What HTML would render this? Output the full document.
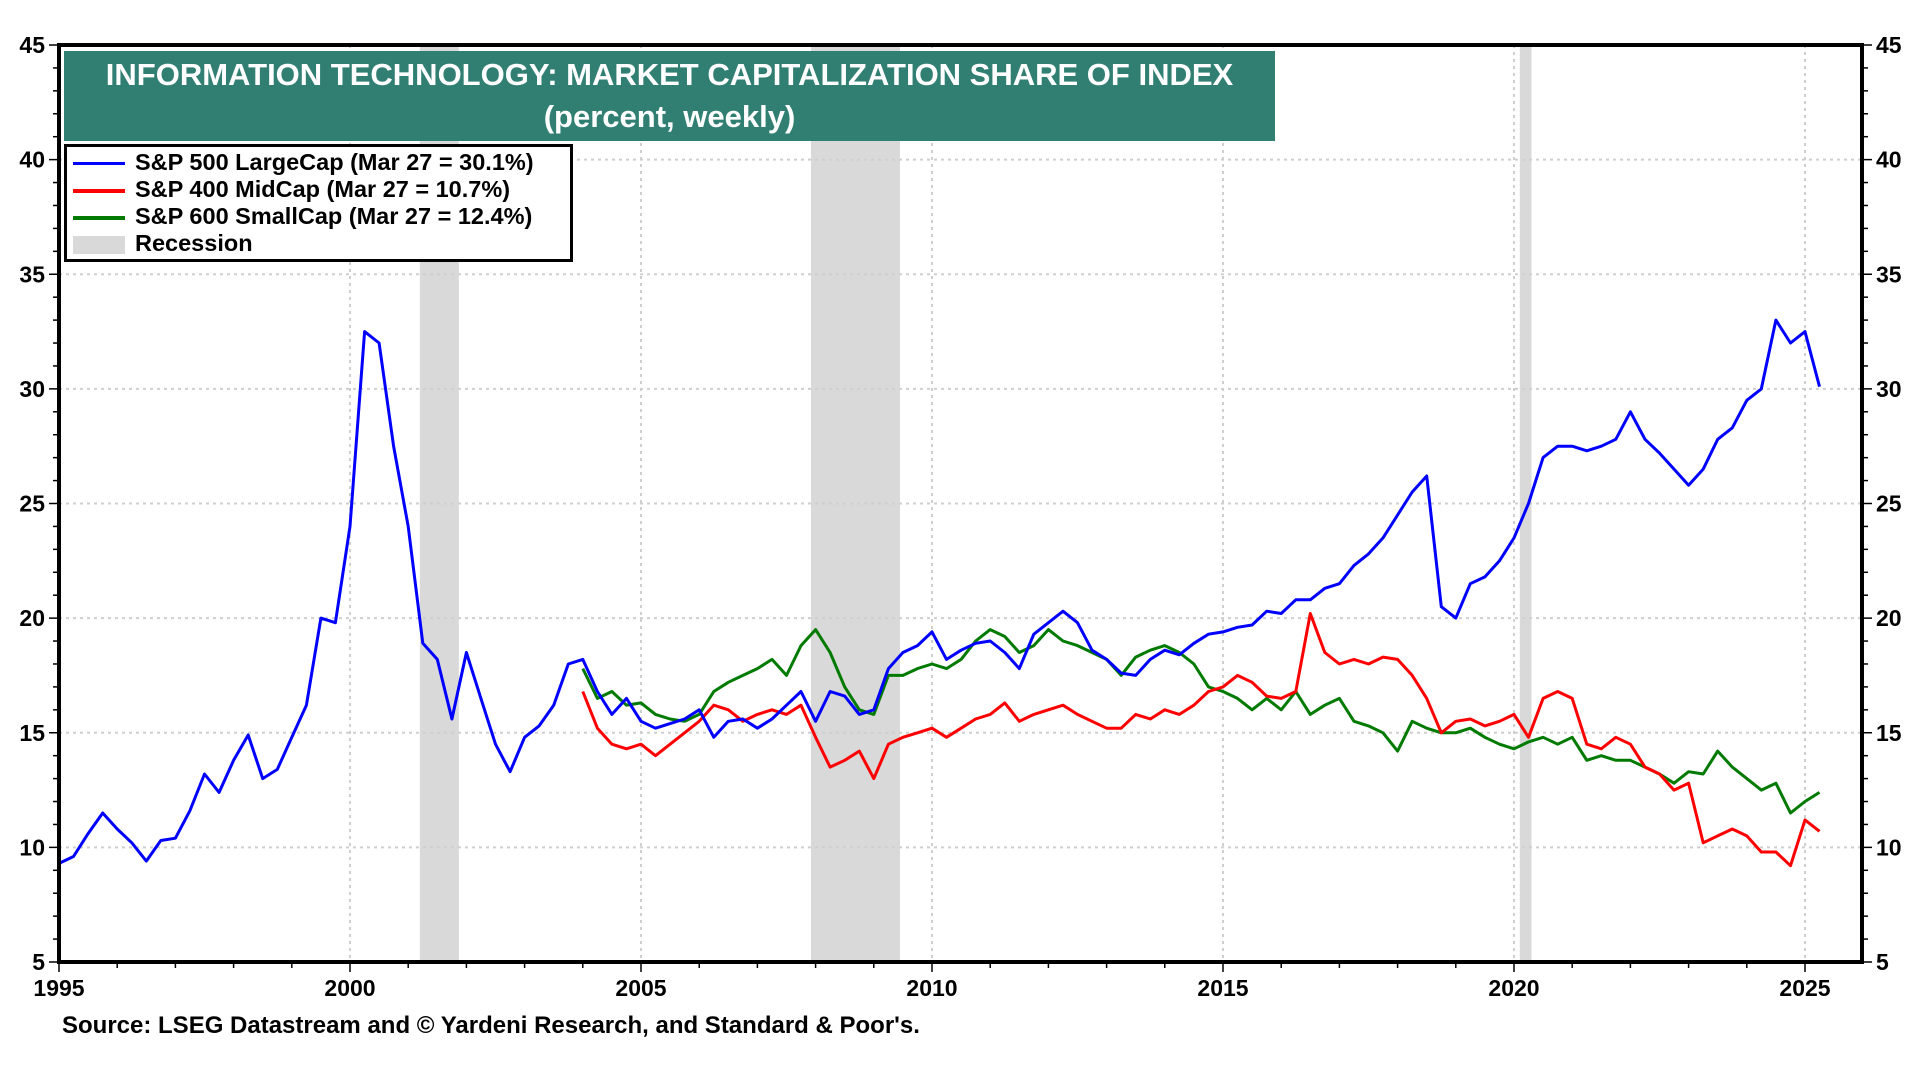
<!DOCTYPE html>
<html><head><meta charset="utf-8"><style>
body{margin:0;background:#fff;width:1920px;height:1080px;overflow:hidden;font-family:"Liberation Sans",sans-serif}
</style></head><body>
<svg id="c" width="1920" height="1080" xmlns="http://www.w3.org/2000/svg"></svg>
<script>
const yTicks=[5,10,15,20,25,30,35,40,45];
const xTicks=[1995,2000,2005,2010,2015,2020,2025];
const recessions=[[2001.2,2001.87],[2007.92,2009.45],[2020.1,2020.3]];
const largeStart=1995;
const largeVals=[9.3,9.6,10.6,11.5,10.8,10.2,9.4,10.3,10.4,11.6,13.2,12.4,13.8,14.9,13.0,13.4,14.8,16.2,20.0,19.8,
24.0,32.5,32.0,27.5,24.0,18.9,18.2,15.6,18.5,16.5,14.5,13.3,14.8,15.3,16.2,18.0,18.2,16.8,15.8,16.5,
15.5,15.2,15.4,15.6,16.0,14.8,15.5,15.6,15.2,15.6,16.2,16.8,15.5,16.8,16.6,15.8,16.0,17.8,18.5,18.8,
19.4,18.2,18.6,18.9,19.0,18.5,17.8,19.3,19.8,20.3,19.8,18.6,18.2,17.6,17.5,18.2,18.6,18.4,18.9,19.3,
19.4,19.6,19.7,20.3,20.2,20.8,20.8,21.3,21.5,22.3,22.8,23.5,24.5,25.5,26.2,20.5,20.0,21.5,21.8,22.5,
23.5,25.0,27.0,27.5,27.5,27.3,27.5,27.8,29.0,27.8,27.2,26.5,25.8,26.5,27.8,28.3,29.5,30.0,33.0,32.0,32.5,30.1];
const midStart=2004;
const midVals=[16.8,15.2,14.5,14.3,14.5,14.0,14.5,15.0,15.5,16.2,16.0,15.5,15.8,16.0,15.8,16.2,14.8,13.5,13.8,14.2,
13.0,14.5,14.8,15.0,15.2,14.8,15.2,15.6,15.8,16.3,15.5,15.8,16.0,16.2,15.8,15.5,15.2,15.2,15.8,15.6,
16.0,15.8,16.2,16.8,17.0,17.5,17.2,16.6,16.5,16.8,20.2,18.5,18.0,18.2,18.0,18.3,18.2,17.5,16.5,15.0,
15.5,15.6,15.3,15.5,15.8,14.8,16.5,16.8,16.5,14.5,14.3,14.8,14.5,13.5,13.2,12.5,12.8,10.2,10.5,10.8,
10.5,9.8,9.8,9.2,11.2,10.7];
const smallStart=2004;
const smallVals=[17.8,16.5,16.8,16.2,16.3,15.8,15.6,15.5,15.8,16.8,17.2,17.5,17.8,18.2,17.5,18.8,19.5,18.5,17.0,16.0,
15.8,17.5,17.5,17.8,18.0,17.8,18.2,19.0,19.5,19.2,18.5,18.8,19.5,19.0,18.8,18.5,18.2,17.5,18.3,18.6,
18.8,18.5,18.0,17.0,16.8,16.5,16.0,16.5,16.0,16.8,15.8,16.2,16.5,15.5,15.3,15.0,14.2,15.5,15.2,15.0,
15.0,15.2,14.8,14.5,14.3,14.6,14.8,14.5,14.8,13.8,14.0,13.8,13.8,13.5,13.2,12.8,13.3,13.2,14.2,13.5,
13.0,12.5,12.8,11.5,12.0,12.4];

const L=59,R=1862,T=45,B=962;
const X=t=>L+(t-1995)*(1805-350)/25;
const Y=v=>B-(v-5)*(B-T)/40;
const svg=document.getElementById('c');
const NS='http://www.w3.org/2000/svg';
function mk(tag,attrs,parent){const e=document.createElementNS(NS,tag);for(const k in attrs)e.setAttribute(k,attrs[k]);(parent||svg).appendChild(e);return e;}

recessions.forEach(r=>{
 const e=mk('rect',{x:X(r[0]),y:T,width:X(r[1])-X(r[0]),height:B-T,fill:'#d9d9d9'});
 
 
});
yTicks.forEach(v=>{
 const g=mk('line',{x1:L,x2:R,y1:Y(v),y2:Y(v),stroke:'#cfcfcf','stroke-width':2,'stroke-dasharray':'3,4'});
 
 
 const t1=mk('text',{x:L-14,y:Y(v)+8,'text-anchor':'end','font-size':23,'font-weight':'bold'});t1.textContent=v;
 
 
 const t2=mk('text',{x:R+14,y:Y(v)+8,'text-anchor':'start','font-size':23,'font-weight':'bold'});t2.textContent=v;
 
 
});
for(let v=5;v<=45;v++){mk('line',{x1:L-(v%5?6:10),x2:L,y1:Y(v),y2:Y(v),stroke:'#000','stroke-width':1.5});mk('line',{x1:R,x2:R+(v%5?6:10),y1:Y(v),y2:Y(v),stroke:'#000','stroke-width':1.5});}
xTicks.forEach(t=>{
 const g=mk('line',{x1:X(t),x2:X(t),y1:T,y2:B,stroke:'#cfcfcf','stroke-width':2,'stroke-dasharray':'3,4'});
 
 
 const l=mk('text',{x:X(t),y:B+34,'text-anchor':'middle','font-size':23,'font-weight':'bold'});l.textContent=t;
 
 
});
for(let t=1995;t<=2025;t++)mk('line',{x1:X(t),x2:X(t),y1:B,y2:B+(t%5?6:10),stroke:'#000','stroke-width':1.5});

function series(start,vals,color,name){
 const d=vals.map((v,i)=>(i?'L':'M')+X(start+i*0.25).toFixed(1)+','+Y(v).toFixed(1)).join('');
 const p=mk('path',{d:d,fill:'none',stroke:color,'stroke-width':3,'stroke-linejoin':'round'});
 
 
}
series(smallStart,smallVals,'#007a00','smallcap-line');
series(midStart,midVals,'#ff0000','midcap-line');
series(largeStart,largeVals,'#0000ff','largecap-line');

const fr=mk('rect',{x:L,y:T,width:R-L,height:B-T,fill:'none',stroke:'#000','stroke-width':4});


</script>
<div style="position:absolute;left:64px;top:51px;width:1211px;height:90px;background:#317f73;color:#fff;font-weight:bold;text-align:center;font-size:31px;line-height:42px;padding-top:3px;box-sizing:border-box">
<div>INFORMATION TECHNOLOGY: MARKET CAPITALIZATION SHARE OF INDEX</div>
<div>(percent, weekly)</div></div>
<div style="position:absolute;left:64px;top:144px;width:509px;height:118px;background:#fff;border:3px solid #000;box-sizing:border-box;font-size:23.5px;font-weight:bold;padding:2px 0 0 6px;line-height:27px;white-space:nowrap">
<div><span style="display:inline-block;width:52px;height:3px;background:#0000ff;vertical-align:middle;margin-right:10px"></span>S&amp;P 500 LargeCap (Mar 27 = 30.1%)</div>
<div><span style="display:inline-block;width:52px;height:4px;background:#ff0000;vertical-align:middle;margin-right:10px"></span>S&amp;P 400 MidCap (Mar 27 = 10.7%)</div>
<div><span style="display:inline-block;width:52px;height:4px;background:#007a00;vertical-align:middle;margin-right:10px"></span>S&amp;P 600 SmallCap (Mar 27 = 12.4%)</div>
<div><span style="display:inline-block;width:52px;height:18px;background:#d9d9d9;vertical-align:middle;margin-right:10px"></span>Recession</div>
</div>
<div style="position:absolute;left:62px;top:1012px;font-size:24px;font-weight:bold">Source: LSEG Datastream and © Yardeni Research, and Standard &amp; Poor's.</div>
</body></html>
